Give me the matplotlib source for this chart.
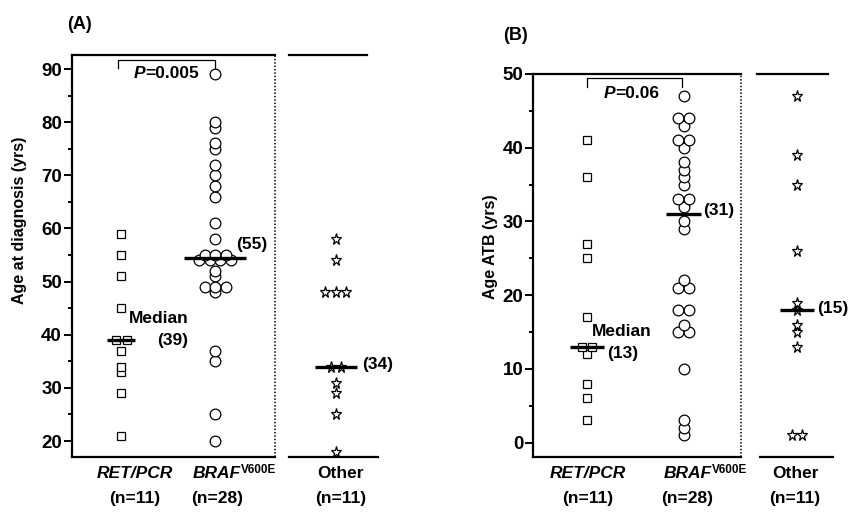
import numpy as np
import matplotlib
matplotlib.use("Agg")
import matplotlib.pyplot as plt
import matplotlib.transforms as mtransforms

plt.rcParams['font.family'] = ['Liberation Sans', 'DejaVu Sans']
plt.rcParams['font.weight'] = 'bold'

# ---- data ----
groups = ["RET/PCR", "BRAF", "Other"]
group_n = ["(n=11)", "(n=28)", "(n=11)"]

# (A) age at diagnosis
a_ret = [59, 55, 51, 45, 39, 39, 37, 34, 33, 29, 21]
a_braf = [89, 80, 79, 76, 75, 72, 70, 68, 66, 61, 58, 55, 55, 55,
          54, 54, 54, 54, 52, 51, 49, 49, 49, 48, 37, 35, 25, 20]
a_other = [58, 54, 48, 48, 48, 34, 34, 31, 29, 25, 18]
a_labels = ["(39)", "(55)", "(34)"]

# (B) age at ATB
b_ret = [41, 36, 27, 25, 17, 13, 13, 12, 8, 6, 3]
b_braf = [47, 44, 44, 43, 41, 41, 40, 38, 37, 36, 35, 33, 33, 32,
          30, 29, 22, 21, 21, 18, 18, 16, 15, 15, 10, 3, 2, 1]
b_other = [47, 39, 35, 26, 19, 18, 16, 15, 13, 1, 1]
b_labels = ["(13)", "(31)", "(15)"]

W, H = 849, 514
fig = plt.figure(figsize=(W / 100, H / 100), dpi=100)


def px_axes(x0, y0, x1, y1):
    return fig.add_axes([x0 / W, 1 - y1 / H, (x1 - x0) / W, (y1 - y0) / H])


def swarm(ax, x, vals, marker, ms, spacing=0.112):
    vals = np.asarray(vals)
    for v in np.unique(vals):
        k = int((vals == v).sum())
        offs = (np.arange(k) - (k - 1) / 2) * spacing
        ax.plot(x + offs, [v] * k, linestyle='none', marker=marker, ms=ms,
                mfc='white', mec='black', mew=0.9, zorder=3, clip_on=False)


def style_main(ax, ylim, major, minor):
    ax.set_ylim(*ylim)
    ax.set_yticks(major)
    ax.set_yticks(minor, minor=True)
    ax.set_xticks([])
    for s in ['left', 'bottom', 'top']:
        ax.spines[s].set_linewidth(1.6)
    ax.spines['right'].set_visible(False)
    # dotted divider on the right
    x1 = ax.get_xlim()[1]
    ax.plot([x1, x1], list(ylim), color='black', lw=1.1, ls=(0, (1, 1.2)),
            clip_on=False, zorder=5)
    ax.tick_params(axis='y', which='major', length=6, width=1.4, labelsize=13.5, pad=1)
    ax.tick_params(axis='y', which='minor', length=3, width=1.4)


def style_other(ax, ylim, top_b, bot_b):
    ax.set_ylim(*ylim)
    ax.set_xticks([])
    ax.set_yticks([])
    ax.spines['left'].set_visible(False)
    ax.spines['right'].set_visible(False)
    ax.spines['top'].set_linewidth(1.6)
    ax.spines['bottom'].set_linewidth(1.6)
    ax.spines['top'].set_bounds(*top_b)
    ax.spines['bottom'].set_bounds(*bot_b)


def median_bar(ax, x, vals, half):
    m = np.median(vals)
    ax.plot([x - half, x + half], [m, m], color='black', lw=2.4, zorder=4,
            solid_capstyle='butt', clip_on=False)
    return m


def pvalue(ax, x_left, y, text, fs=12.5):
    t = ax.text(x_left, y, text, ha='left', va='center', fontsize=fs, fontweight='bold')
    ax.annotate("P", xy=(0, 0), xycoords=t, ha='right', va='bottom',
                fontsize=fs, fontweight='bold', fontstyle='italic')


def cat_labels(ax_main, ax_oth, xs_main, x_oth, y1, y2):
    tr = mtransforms.blended_transform_factory(ax_main.transData, fig.transFigure)
    tro = mtransforms.blended_transform_factory(ax_oth.transData, fig.transFigure)
    ax_main.text(xs_main[0], y1, "RET/PCR", transform=tr, ha='center', va='center',
                 fontsize=12.5, fontstyle='italic', fontweight='bold')
    t = ax_main.text(xs_main[1], y1, "BRAF", transform=tr, ha='center', va='center',
                     fontsize=12.5, fontstyle='italic', fontweight='bold')
    ax_main.annotate("V600E", xy=(1, 1), xycoords=t, ha='left', va='top',
                     fontsize=8.5, fontweight='bold', xytext=(0, 1),
                     textcoords='offset points')
    ax_oth.text(x_oth, y1, "Other", transform=tro, ha='center', va='center',
                fontsize=12.5, fontweight='bold')
    ax_main.text(xs_main[0], y2, group_n[0], transform=tr, ha='center', va='center', fontsize=12.5)
    ax_main.text(xs_main[1], y2, group_n[1], transform=tr, ha='center', va='center', fontsize=12.5)
    ax_oth.text(x_oth, y2, group_n[2], transform=tro, ha='center', va='center', fontsize=12.5)


# ---------------- panel A ----------------
axA = px_axes(71.7, 54.7, 275, 456.7)
axA.set_xlim(0.471, 2.640)
style_main(axA, (17.05, 92.7), np.arange(20, 91, 10), np.arange(25, 90, 10))
axAo = px_axes(289.3, 54.7, 378, 456.7)
axAo.set_xlim(-0.498, 0.448)
style_other(axAo, (17.05, 92.7), (-0.498, 0.334), (-0.498, 0.448))

swarm(axA, 1, a_ret, 's', 6.2)
swarm(axA, 2, a_braf, 'o', 7.7)
swarm(axAo, 0, a_other, '*', 8.2)
mA = [median_bar(axA, 1, a_ret, 0.15),
      median_bar(axA, 2, a_braf, 0.33),
      median_bar(axAo, 0, a_other, 0.22)]

axA.text(1.08, mA[0] + 4.1, "Median", ha='left', va='center', fontsize=12.5)
axA.text(1.38, mA[0], a_labels[0], ha='left', va='center', fontsize=12.5)
axA.text(2.22, mA[1] + 2.5, a_labels[1], ha='left', va='center', fontsize=12.5)
axAo.text(0.274, mA[2] + 0.4, a_labels[2], ha='left', va='center', fontsize=12.5)

axA.plot([0.97, 0.97, 2.0, 2.0], [90.2, 91.75, 91.75, 90.2], color='black', lw=0.9)
pvalue(axA, 1.253, 89.1, "=0.005")

fig.text(20 / W, 1 - 220 / H, "Age at diagnosis (yrs)", rotation=90,
         ha='center', va='center', fontsize=11.5)
cat_labels(axA, axAo, [1.146, 2.02], 0.05, 1 - 473 / H, 1 - 498 / H)
fig.text(79 / W, 1 - 24 / H, "(A)", ha='center', va='center', fontsize=13)

# ---------------- panel B ----------------
axB = px_axes(533.3, 74, 740.7, 457.3)
axB.set_xlim(0.445, 2.589)
style_main(axB, (-2.0, 50), np.arange(0, 51, 10), np.arange(5, 50, 10))
axBo = px_axes(757.3, 74, 832.7, 457.3)
axBo.set_xlim(-0.411, 0.369)
style_other(axBo, (-2.0, 50), (-0.411, 0.323), (-0.383, 0.369))

swarm(axB, 1, b_ret, 's', 6.2, spacing=0.105)
swarm(axB, 2, b_braf, 'o', 7.7, spacing=0.11)
swarm(axBo, 0, b_other, '*', 8.2, spacing=0.11)
mB = [median_bar(axB, 1, b_ret, 0.18),
      median_bar(axB, 2, b_braf, 0.18),
      median_bar(axBo, 0, b_other, 0.18)]

axB.text(1.05, mB[0] + 2.0, "Median", ha='left', va='center', fontsize=12.5)
axB.text(1.21, mB[0] - 0.9, b_labels[0], ha='left', va='center', fontsize=12.5)
axB.text(2.20, mB[1] + 0.45, b_labels[1], ha='left', va='center', fontsize=12.5)
axBo.text(0.204, mB[2] + 0.25, b_labels[2], ha='left', va='center', fontsize=12.5)

axB.plot([1.0, 1.0, 1.98, 1.98], [48.3, 49.5, 49.5, 48.3], color='black', lw=0.9)
pvalue(axB, 1.29, 47.4, "=0.06")

fig.text(490 / W, 1 - 247 / H, "Age ATB (yrs)", rotation=90,
         ha='center', va='center', fontsize=11.5)
cat_labels(axB, axBo, [1.005, 2.04], -0.02, 1 - 473 / H, 1 - 498 / H)
fig.text(516 / W, 1 - 35 / H, "(B)", ha='center', va='center', fontsize=13)

fig.savefig("out.png", dpi=100)
